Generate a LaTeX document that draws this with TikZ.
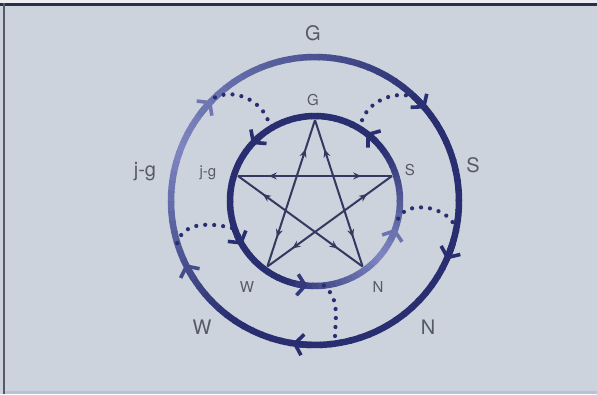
\documentclass[tikz,border=0pt]{standalone}
\usepackage{fontspec}
\setmainfont{TeX Gyre Heros}
\usetikzlibrary{arrows.meta,decorations.markings}
\definecolor{navy}{RGB}{40,46,112}
\definecolor{lilac}{RGB}{142,150,208}
\definecolor{slide}{RGB}{204,211,221}
\definecolor{ink}{RGB}{86,90,104}
\definecolor{starline}{RGB}{52,57,96}
\begin{document}
\begin{tikzpicture}[x=1pt,y=1pt,
  >={Straight Barb[length=8pt,width=21pt,line width=3.6pt]},
  declare function={lo(\m)=85*max(0,min((\m-40)/120,(235-\m)/75));
    li(\m)=85*max(0,min((\m+360*(\m<100)-250)/70,(400-\m-360*(\m<100))/80));},
  outlbl/.style={text=ink,font=\fontsize{20}{20}\selectfont},
  inlbl/.style={text=ink,font=\fontsize{15}{15}\selectfont},
  ring/.style={line width=6.5pt},
  dots/.style={navy,line width=4.2pt,line cap=round,dash pattern=on 0pt off 9pt},
  star/.style={starline,line width=2pt},
  twoway/.style={decoration={markings,
      mark=at position 0.2 with {\arrowreversed{Stealth[length=8pt,width=7pt]}},
      mark=at position 0.8 with {\arrow{Stealth[length=8pt,width=7pt]}}},
    postaction={decorate}}]
\fill[slide] (-315,-193) rectangle (282,201);
\fill[white!60!slide] (-315,198) rectangle (282,201);
\fill[starline!80!black] (-315,194.5) rectangle (282,198);
\fill[ink] (-312,-193) rectangle (-309.5,198);
\fill[lilac!30!slide] (-309.5,-193) rectangle (282,-190);

\foreach \a in {0,4,...,356}
{
    \pgfmathtruncatemacro\p{lo(\a+2)}
    \draw[ring,lilac!\p!navy](\a:144) arc[start angle=\a,end angle=\a+4.6,radius=144];
    \pgfmathtruncatemacro\q{li(\a+2)}
    \draw[ring,lilac!\q!navy](\a:85) arc[start angle=\a,end angle=\a+4.6,radius=85];
}

\foreach \t in {140,44,-20,265,210}
{
    \pgfmathtruncatemacro\p{lo(\t+360*(\t<0))}
    \draw[ring,->,lilac!\p!navy](\t+3:144) arc[start angle=\t+3,end angle=\t-4,radius=144];
}
\foreach \t in {133,48,206,260,-24}
{
    \pgfmathtruncatemacro\q{li(\t)}
    \draw[ring,->,lilac!\q!navy](\t-3:85) arc[start angle=\t-3,end angle=\t+5,radius=85];
}

\coordinate (g) at (90:81);
\coordinate (s) at (18:81);
\coordinate (n) at (-54:81);
\coordinate (w) at (234:81);
\coordinate (jg) at (162:81);
\foreach \a/\b in {g/n,g/w,jg/s,jg/n,s/w}
{
    \draw[star,twoway](\a)--(\b);
}

\coordinate (o1) at (134:144);  \coordinate (i1) at (122:85);
\coordinate (i2) at (58:85);    \coordinate (o2) at (46:144);
\coordinate (i3) at (-12:85);   \coordinate (o3) at (-12:144);
\coordinate (i4) at (-84:85);   \coordinate (o4) at (-82:144);
\coordinate (o5) at (197:144);  \coordinate (i5) at (199:85);
\draw[dots](o1) to[out=25,in=95](i1);
\draw[dots](i2) to[out=85,in=160](o2);
\draw[dots](i3) to[out=65,in=95](o3);
\draw[dots](i4) to[out=-40,in=92](o4);
\draw[dots](o5) to[out=75,in=165](i5);

\node[outlbl](Gout) at (-2,168){G};
\node[outlbl](Sout) at (158,36){S};
\node[outlbl](Nout) at (113,-126){N};
\node[outlbl](Wout) at (-113,-126){W};
\node[outlbl](JGout) at (-170,29){j-g};
\node[inlbl](Gin) at (-2,101){G};
\node[inlbl](Sin) at (95,31){S};
\node[inlbl](Nin) at (63,-86){N};
\node[inlbl](Win) at (-68,-86){W};
\node[inlbl](JGin) at (-107,28){j-g};
\end{tikzpicture}
\end{document}
